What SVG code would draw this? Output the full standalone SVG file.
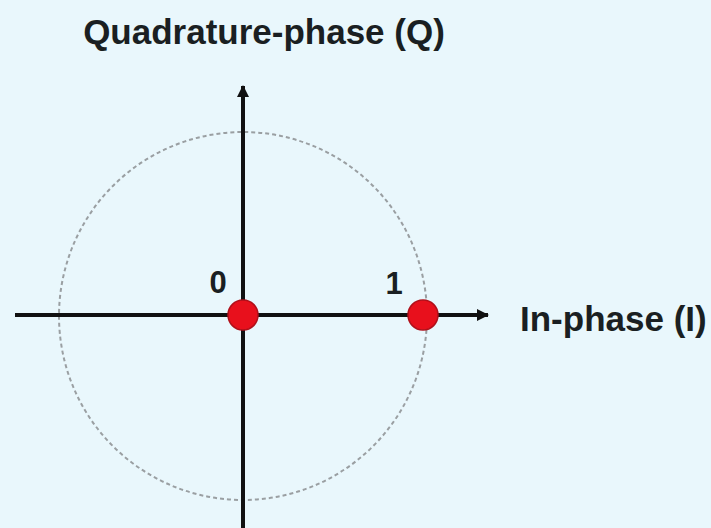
<svg xmlns="http://www.w3.org/2000/svg" width="711" height="528" viewBox="0 0 711 528">
  <style>
    .lbl { font-family: "Liberation Sans", Arial, sans-serif; font-weight: bold; fill: #1a1f22; }
    .axis { stroke: #111; stroke-width: 4; fill: none; }
    .dot { fill: #e8101c; stroke: #b0101a; stroke-width: 1.5; }
  </style>
  <defs>
    <marker id="arr" viewBox="0 0 12 12" refX="11" refY="6" markerWidth="12" markerHeight="12" markerUnits="userSpaceOnUse" orient="auto">
      <path d="M0,0 L12,6 L0,12 z" fill="#111"/>
    </marker>
  </defs>
  <rect width="711" height="528" fill="#e9f7fc"/>
  <g id="unit-circle">
    <circle cx="243" cy="316" r="184" fill="none" stroke="#9a9fa2" stroke-width="2" stroke-dasharray="4 3"/>
  </g>
  <g id="connectors">
    <line class="axis" x1="15" y1="315" x2="488" y2="315" marker-end="url(#arr)"/>
    <line class="axis" x1="243" y1="528" x2="243" y2="86" marker-end="url(#arr)"/>
  </g>
  <g id="title-q">
    <text class="lbl" x="264" y="44" font-size="35" text-anchor="middle">Quadrature-phase (Q)</text>
  </g>
  <g id="label-i">
    <text class="lbl" x="520" y="331" font-size="35">In-phase (I)</text>
  </g>
  <g id="point-0">
    <circle class="dot" cx="243" cy="315" r="15"/>
    <text class="lbl" x="218" y="293" font-size="31" text-anchor="middle">0</text>
  </g>
  <g id="point-1">
    <circle class="dot" cx="423" cy="315" r="15"/>
    <text class="lbl" x="394" y="294" font-size="31" text-anchor="middle">1</text>
  </g>
</svg>
